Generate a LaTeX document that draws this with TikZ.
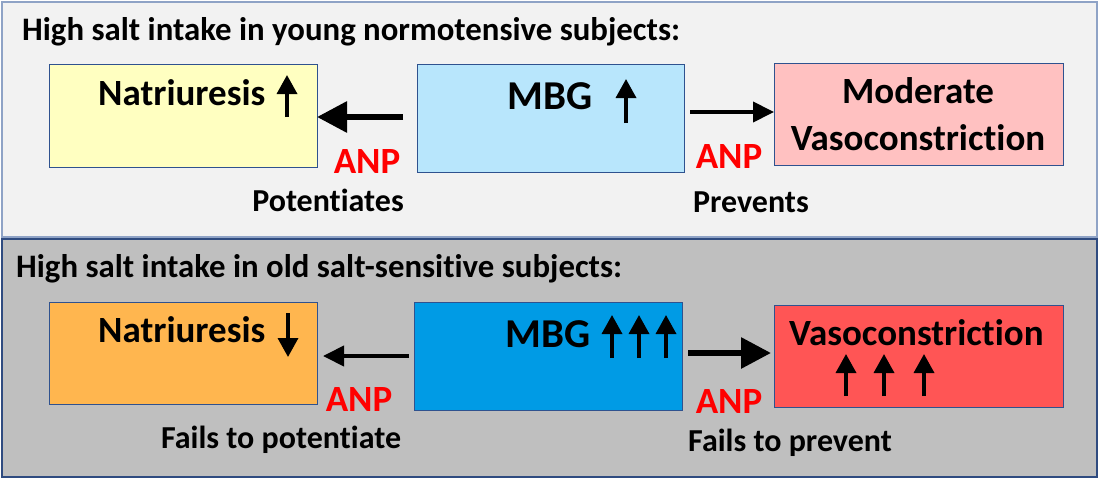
\documentclass[tikz,border=0pt]{standalone}
\usepackage{fontspec}
\setmainfont{Carlito}[Ligatures=NoCommon]
\usetikzlibrary{arrows.meta}
\definecolor{topbg}{RGB}{242,242,242}
\definecolor{botbg}{RGB}{191,191,191}
\definecolor{topframe}{RGB}{143,163,198}
\definecolor{botframe}{RGB}{47,75,128}
\definecolor{boxline}{RGB}{47,82,143}
\definecolor{yel}{RGB}{255,255,193}
\definecolor{lblue}{RGB}{184,230,252}
\definecolor{pink}{RGB}{255,193,193}
\definecolor{orng}{RGB}{255,182,79}
\definecolor{dblue}{RGB}{0,155,229}
\definecolor{redbox}{RGB}{255,85,85}
\definecolor{anpred}{RGB}{255,0,0}
\begin{document}
\begin{tikzpicture}[x=1pt,y=-1pt,
  panel/.style={draw, line width=1.5pt, inner sep=0pt, outer sep=0pt},
  box/.style={draw=boxline, line width=1pt, inner sep=0pt, outer sep=0pt},
  title/.style={font=\fontsize{32.8}{36}\selectfont\bfseries, anchor=base west, inner sep=0pt},
  boxtext/.style={font=\fontsize{37}{42}\selectfont\bfseries, anchor=base west, inner sep=0pt},
  boxtextc/.style={font=\fontsize{37}{42}\selectfont\bfseries, anchor=base, inner sep=0pt},
  mbgtext/.style={font=\fontsize{41}{46}\selectfont\bfseries, anchor=base west, inner sep=0pt},
  anp/.style={font=\fontsize{37}{40}\selectfont\bfseries, text=anpred, anchor=base, inner sep=0pt},
  lab/.style={font=\fontsize{32}{36}\selectfont\bfseries, anchor=base, inner sep=0pt},
  small/.style={line width=3.5pt, -{Triangle[width=20pt,length=19pt]}},
  bigarrow/.style={line width=6pt, -{Triangle[width=30pt,length=30pt]}},
  medarrow/.style={line width=4pt, -{Triangle[width=20pt,length=21pt]}}
]
\useasboundingbox (0,0) rectangle (1100,479);
% panels
\node[panel, draw=topframe, fill=topbg, minimum width=1095pt, minimum height=235pt] (ptop) at (549.5,119.5) {};
\node[panel, draw=botframe, fill=botbg, minimum width=1095pt, minimum height=238pt] (pbot) at (549.5,358) {};
% titles
\node[title] (t1) at (22,40) {High salt intake in young normotensive subjects:};
\node[title] (t2) at (16,277) {High salt intake in old salt-sensitive subjects:};
% top boxes
\node[box, fill=yel, minimum width=268pt, minimum height=103pt] (nat1) at (183,115.5) {};
\node[box, fill=lblue, minimum width=267pt, minimum height=108pt] (mbg1) at (550.5,118) {};
\node[box, fill=pink, minimum width=289pt, minimum height=102pt] (vas1) at (918.5,114) {};
% bottom boxes
\node[box, fill=orng, minimum width=268pt, minimum height=102pt] (nat2) at (183,353) {};
\node[box, fill=dblue, minimum width=268pt, minimum height=108pt] (mbg2) at (548,356) {};
\node[box, fill=redbox, minimum width=289pt, minimum height=102pt] (vas2) at (918.5,356) {};
% box texts top
\node[boxtext] (nat1t) at (98,105) {Natriuresis};
\draw[small] (287,117) -- (287,75);
\node[mbgtext] (mbg1t) at (507,109) {MBG};
\draw[small] (626,123) -- (626,79);
\node[boxtextc] (vas1a) at (918,103) {Moderate};
\node[boxtextc] (vas1b) at (918,150) {Vasoconstriction};
% box texts bottom
\node[boxtext] (nat2t) at (98,342) {Natriuresis};
\draw[small] (288,313) -- (288,357);
\node[mbgtext] (mbg2t) at (505,347) {MBG};
\foreach \x in {612,639,666} \draw[small] (\x,358) -- (\x,315);
\node[boxtext] (vas2t) at (789,345) {Vasoconstriction};
\foreach \x in {846,884,924} \draw[small] (\x,396) -- (\x,354);
% connectors
\draw[bigarrow] ([shift={(-14pt,1pt)}]mbg1.west) coordinate (c1) -- (c1 -| nat1.east);
\draw[medarrow] ([shift={(6pt,6pt)}]mbg1.east) coordinate (c2) -- (c2 -| vas1.west);
\draw[medarrow, shorten >=6pt] ([xshift=-5pt]mbg2.west) coordinate (c3) -- (c3 -| nat2.east);
\draw[bigarrow, shorten >=3pt] ([shift={(6pt,3pt)}]mbg2.east) coordinate (c4) -- (c4 -| vas2.west);
% labels
\node[anp] (anp1) at (367,173) {ANP};
\node[anp] (anp2) at (729,168) {ANP};
\node[lab] (l1) at (328,211) {Potentiates};
\node[lab] (l2) at (751,212) {Prevents};
\node[anp] (anp3) at (359,411) {ANP};
\node[anp] (anp4) at (729,413) {ANP};
\node[lab] (l3) at (281,448) {Fails to potentiate};
\node[lab] (l4) at (790,451) {Fails to prevent};
\end{tikzpicture}
\end{document}
